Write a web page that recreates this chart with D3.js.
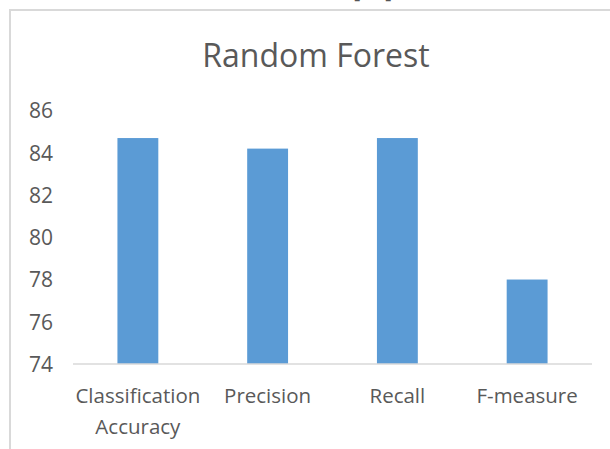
<!DOCTYPE html>
<html>
<head>
<meta charset="utf-8">
<script src="https://cdn.jsdelivr.net/npm/d3@7"></script>
<style>
  html, body { margin: 0; padding: 0; background: #fff; }
  svg { display: block; }
  text { font-family: "Open Sans", "Noto Sans", sans-serif; fill: #595959; }
</style>
</head>
<body>
<svg id="chart" width="610" height="449"></svg>
<script>
// Scores for the Random Forest classifier
const categories = [["Classification", "Accuracy"], ["Precision"], ["Recall"], ["F-measure"]];
const scores = [84.7, 84.2, 84.7, 78.0];
const yTicks = [74, 76, 78, 80, 82, 84, 86];
const chartTitle = "Random Forest";

const svg = d3.select("#chart");
const W = 610, H = 449;

// chart frame (only top and left edges fall inside the view)
svg.append("rect")
  .attr("x", 10).attr("y", 10)
  .attr("width", W + 20).attr("height", H + 20)
  .attr("fill", "none").attr("stroke", "#d9d9d9").attr("stroke-width", 2);

// citation bracket bottoms at the top edge
svg.append("text")
  .attr("x", 353).attr("y", -2.5)
  .style("font-size", "22px")
  .style("fill", "#555")
  .text("[12]");

const plot = { left: 73, right: 592, top: 110.6, bottom: 364 };

const x = d3.scaleBand()
  .domain(d3.range(categories.length))
  .range([plot.left, plot.right])
  .paddingInner(0.685)
  .paddingOuter(0.3425);

const y = d3.scaleLinear()
  .domain([74, 86])
  .range([plot.bottom, plot.top]);

// title
svg.append("text")
  .attr("x", 316).attr("y", 67)
  .attr("text-anchor", "middle")
  .style("font-size", "32px")
  .text(chartTitle);

// y axis labels (no axis line)
const yAxis = d3.axisLeft(y).tickValues(yTicks).tickSize(0).tickPadding(0);
const gy = svg.append("g").attr("transform", "translate(53,0)").call(yAxis);
gy.select(".domain").remove();
gy.selectAll("text")
  .attr("dy", "0.35em")
  .style("font-size", "21px")
  .style("fill", "#595959")
  .style("font-family", "\"Open Sans\", \"Noto Sans\", sans-serif");

// bars
svg.append("g").selectAll("rect")
  .data(scores)
  .join("rect")
  .attr("x", (d, i) => x(i))
  .attr("y", d => y(d))
  .attr("width", x.bandwidth())
  .attr("height", d => y(74) - y(d))
  .attr("fill", "#5B9BD5");

// category axis baseline
svg.append("line")
  .attr("x1", plot.left).attr("x2", plot.right)
  .attr("y1", y(74)).attr("y2", y(74))
  .attr("stroke", "#d9d9d9").attr("stroke-width", 1.5);

// category labels
const gx = svg.append("g");
categories.forEach((lines, i) => {
  const t = gx.append("text")
    .attr("x", x(i) + x.bandwidth() / 2)
    .attr("y", 403)
    .attr("text-anchor", "middle")
    .style("font-size", "20.5px");
  lines.forEach((ln, k) => {
    t.append("tspan")
      .attr("x", x(i) + x.bandwidth() / 2)
      .attr("dy", k === 0 ? 0 : 31)
      .text(ln);
  });
});
</script>
</body>
</html>
